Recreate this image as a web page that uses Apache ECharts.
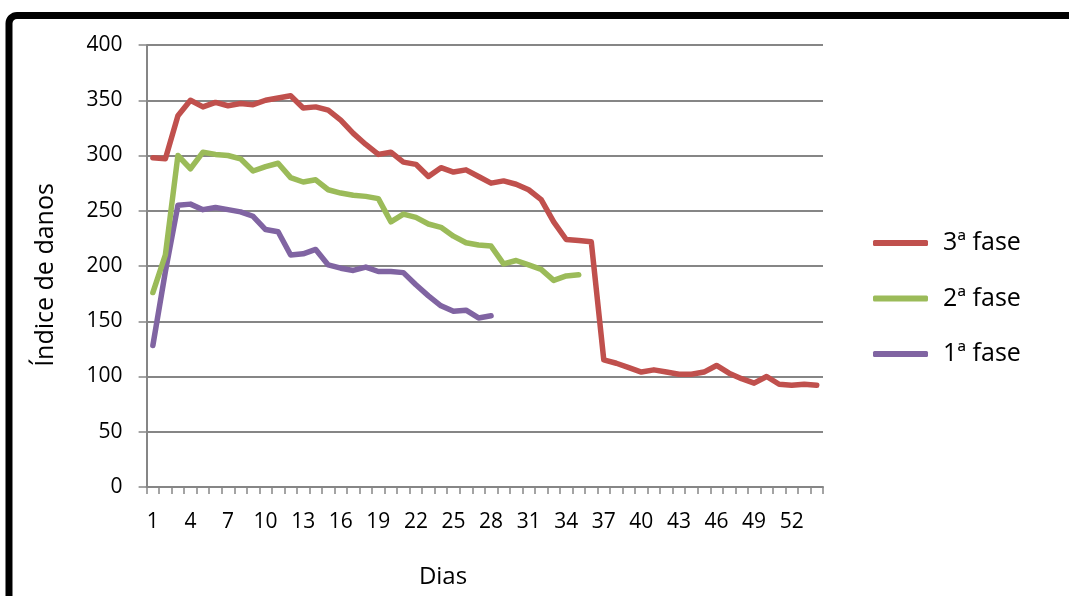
<!DOCTYPE html>
<html>
<head>
<meta charset="utf-8">
<script src="https://cdn.jsdelivr.net/npm/echarts@6/dist/echarts.min.js"></script>
<style>
  html, body { margin: 0; padding: 0; background: #fff; }
  #chart { width: 1069px; height: 596px; }
</style>
</head>
<body>
<div id="chart"></div>
<script>
// Days 1..54
const days = Array.from({ length: 54 }, (_, i) => String(i + 1));

const fase3 = [298, 297, 336, 350, 344, 348, 345, 347, 346, 350, 352, 354, 343, 344, 341, 332, 320, 310, 301, 303,
  294, 292, 281, 289, 285, 287, 281, 275, 277, 274, 269, 260, 240, 224, 223, 222, 115, 112, 108, 104,
  106, 104, 102, 102, 104, 110, 103, 98, 94, 100, 93, 92, 93, 92];

const fase2 = [176, 210, 300, 288, 303, 301, 300, 297, 286, 290, 293, 280, 276, 278, 269, 266, 264, 263, 261, 240,
  247, 244, 238, 235, 227, 221, 219, 218, 202, 205, 201, 197, 187, 191, 192];

const fase1 = [128, 195, 255, 256, 251, 253, 251, 249, 245, 233, 231, 210, 211, 215, 201, 198, 196, 199, 195, 195,
  194, 183, 173, 164, 159, 160, 153, 155];

const seriesNames = ['3ª fase', '2ª fase', '1ª fase'];
const seriesColors = ['#C0504D', '#9BBB59', '#8064A2'];
const seriesData = [fase3, fase2, fase1];

const FONT = '"Open Sans", "Noto Sans", sans-serif';
const GRID_GRAY = '#868686';

const chart = echarts.init(document.getElementById('chart'), null, { renderer: 'canvas' });

chart.setOption({
  animation: false,
  backgroundColor: '#fff',
  grid: { left: 146.6, right: 246, top: 45, bottom: 109, containLabel: false },
  xAxis: {
    type: 'category',
    data: days,
    boundaryGap: true,
    axisLine: { lineStyle: { color: GRID_GRAY, width: 2 } },
    axisTick: { show: true, interval: 0, length: 7, lineStyle: { color: GRID_GRAY, width: 1.5 } },
    axisLabel: { interval: 2, color: '#000', fontFamily: FONT, fontSize: 21, margin: 25 },
    splitLine: { show: false }
  },
  yAxis: {
    type: 'value',
    min: 0,
    max: 400,
    interval: 50,
    axisLine: { show: true, lineStyle: { color: GRID_GRAY, width: 2 } },
    axisTick: { show: true, length: 8, lineStyle: { color: GRID_GRAY, width: 1.5 } },
    axisLabel: { color: '#000', fontFamily: FONT, fontSize: 21, margin: 24 },
    splitLine: { show: true, lineStyle: { color: GRID_GRAY, width: 2 } }
  },
  legend: {
    orient: 'vertical',
    left: 868,
    top: 224,
    itemGap: 27.5,
    itemWidth: 55,
    itemHeight: 6,
    icon: 'roundRect',
    data: seriesNames,
    textStyle: { color: '#000', fontFamily: FONT, fontSize: 25, lineHeight: 28, padding: [0, 0, 0, 10] }
  },
  graphic: [
    {
      type: 'rect',
      silent: true,
      shape: { x: 9, y: 15.5, width: 1300, height: 900, r: 8 },
      style: { fill: 'none', stroke: '#000', lineWidth: 7 }
    },
    {
      type: 'text',
      silent: true,
      x: 443, y: 577,
      style: { text: 'Dias', fill: '#000', font: '24px ' + FONT, textAlign: 'center', textVerticalAlign: 'middle' }
    },
    {
      type: 'text',
      silent: true,
      x: 46, y: 275,
      rotation: Math.PI / 2,
      style: { text: 'Índice de danos', fill: '#000', font: '25px ' + FONT, textAlign: 'center', textVerticalAlign: 'middle' }
    }
  ],
  series: seriesNames.map((name, i) => ({
    name: name,
    type: 'line',
    data: seriesData[i],
    symbol: 'none',
    smooth: false,
    color: seriesColors[i],
    lineStyle: { width: 5.5, color: seriesColors[i], cap: 'round', join: 'round' },
    itemStyle: { color: seriesColors[i] },
    z: 10 - i
  }))
});
</script>
</body>
</html>
